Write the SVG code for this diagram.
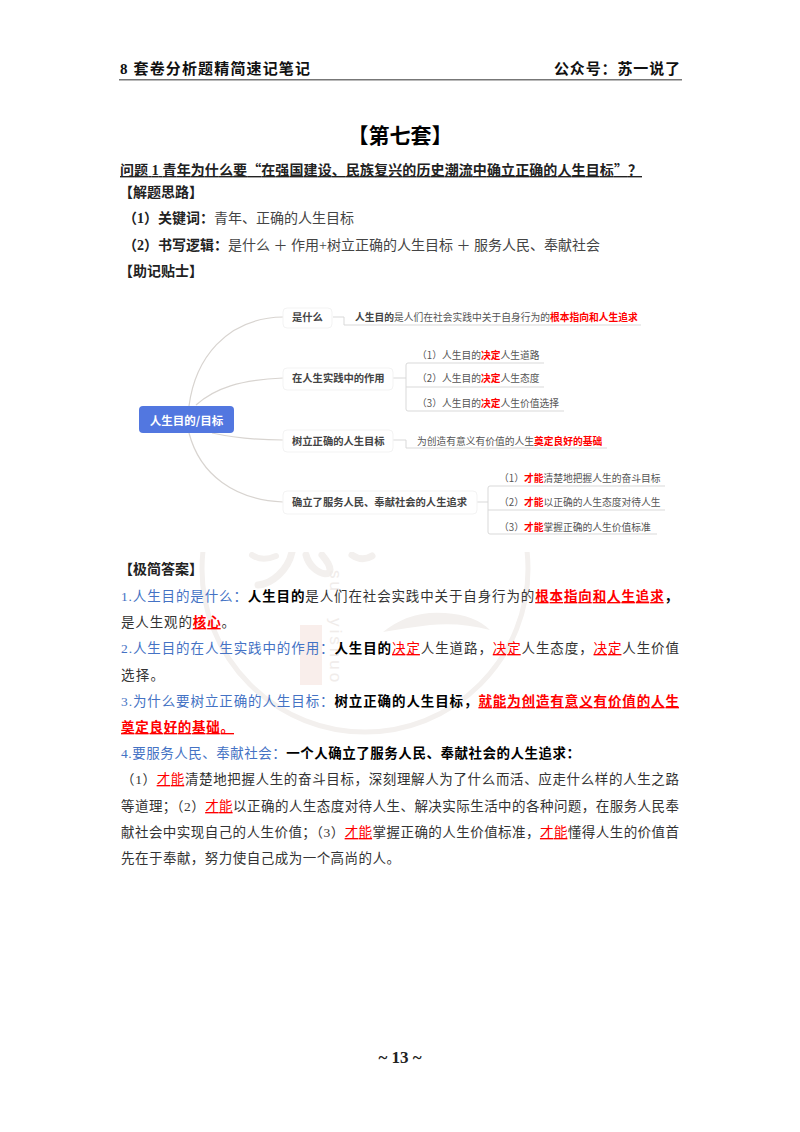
<svg xmlns="http://www.w3.org/2000/svg" width="800" height="1132" viewBox="0 0 800 1132">
<style>
text{font-family:"Liberation Serif","Noto Sans CJK SC",serif;font-size:13.5px;fill:#333}
.b{font-weight:700;fill:#000}
.bl{fill:#4472c4}
.u{fill:#f00;text-decoration:underline;text-underline-offset:3px}
.ub{fill:#f00;font-weight:700;text-decoration:underline;text-underline-offset:3px}
.g{fill:#444;font-weight:400}
.h{font-weight:700;fill:#222;font-size:14px}
.hd{font-weight:700;fill:#111;font-size:15px}
.q{font-family:"Noto Sans CJK SC",sans-serif}
.m,.mb,.mr{font-family:"Noto Sans CJK SC","Liberation Sans",sans-serif;font-size:9.75px}
.m{fill:#555}
.mb{font-weight:700;fill:#444}
.lb{font-family:"Noto Sans CJK SC","Liberation Sans",sans-serif;font-size:10.3px;font-weight:700;fill:#444}
.mr{font-weight:700;fill:#f00}
.c{fill:none;stroke:#d8d4d0;stroke-width:1.2}
.n{fill:#fff;stroke:#f3f3f3;stroke-width:1}
.l{fill:none;stroke:#d9d9d9;stroke-width:1}
.wm{fill:#f3f0ee}
.ws{fill:none;stroke:#f3f0ee;stroke-linecap:round}
.wt{font-family:"Liberation Sans",sans-serif;font-size:17px;letter-spacing:3px;fill:#f0ecea}
</style>
<defs><clipPath id="wc"><rect x="0" y="552" width="800" height="300"/></clipPath></defs>
<rect width="800" height="1132" fill="#fff"/>
<g id="watermark" clip-path="url(#wc)">
<circle cx="365" cy="569" r="163" fill="none" stroke="#f3f0ee" stroke-width="5"/>
<rect x="300" y="625" width="22" height="60" fill="#f9eeeb"/>
<path class="wm" d="M383 632Q410 610 445 613Q475 615 490 630Q460 622 430 625Q405 628 383 632Z"/>
<path class="ws" stroke-width="7" d="M292 552C288 570 272 584 258 585"/>
<path class="ws" stroke-width="6" d="M252 555Q262 562 276 556"/>
<path class="ws" stroke-width="7" d="M306 555C312 578 345 582 322 555"/>
<path class="ws" stroke-width="7" d="M352 555Q362 562 372 556"/>
<text class="wt" transform="translate(330,570) rotate(90)">su</text>
<text class="wt" transform="translate(330,618) rotate(90)">yishuo</text>
</g>
<g id="header">
<text x="120" y="74" class="hd" textLength="190">8 套卷分析题精简速记笔记</text>
<text x="554" y="74" class="hd" textLength="126">公众号：苏一说了</text>
<rect x="119" y="79" width="563" height="1.5" fill="#777"/>
</g>
<g id="title">
<text x="400" y="143" text-anchor="middle" class="b" style="font-size:21px">【第七套】</text>
<text x="120" y="175" class="b" style="font-size:14px;fill:#222;text-decoration:underline;text-underline-offset:2px" textLength="522">问题 1 青年为什么要<tspan class="q">“</tspan>在强国建设、民族复兴的历史潮流中确立正确的人生目标<tspan class="q">”</tspan>？</text>
<text x="119" y="197" class="h">【解题思路】</text>
<text x="123" y="223" class="h">（1）关键词：<tspan class="g">青年、正确的人生目标</tspan></text>
<text x="123" y="250" class="h">（2）书写逻辑：<tspan class="g">是什么 ＋ 作用+树立正确的人生目标 ＋ 服务人民、奉献社会</tspan></text>
<text x="119" y="276" class="h">【助记贴士】</text>
</g>
<g id="connectors">
<path class="c" d="M189 406C195 360 225 318 283 317"/>
<path class="c" d="M196 405C215 388 240 380 283 378"/>
<path class="c" d="M212 433C235 438 255 440 283 440"/>
<path class="c" d="M189 433C200 475 235 500 283 502"/>
<path class="l" d="M333 317H344V325H641"/>
<path class="l" d="M393 378H406M544 363H408Q406 363 406 365V409Q406 411 408 411H564M406 387H544"/>
<path class="l" d="M393 440H406V448H607"/>
<path class="l" d="M477 502H488M665 486H490Q488 486 488 488V532Q488 534 490 534H657M488 510H665"/>
</g>
<g id="n-root"><rect x="139" y="406" width="95" height="27" rx="4" fill="#5277e0"/><text x="186.500" y="425" text-anchor="middle" style="font-family:'Noto Sans CJK SC',sans-serif;font-size:11.500px;fill:#fff;font-weight:700">人生目的/目标</text></g>
<g id="n-what"><rect class="n" x="283" y="308" width="49" height="20" rx="4"/><text x="292" y="321" class="lb">是什么</text></g>
<g id="n-what-1"><text x="355" y="321" class="m"><tspan class="mb">人生目的</tspan>是人们在社会实践中关于自身行为的<tspan class="mr">根本指向和人生追求</tspan></text></g>
<g id="n-role"><rect class="n" x="283" y="368" width="110" height="22" rx="4"/><text x="292" y="382" class="lb">在人生实践中的作用</text></g>
<g id="n-role-1"><text x="417" y="358.500" class="m">（1）人生目的<tspan class="mr">决定</tspan>人生道路</text></g>
<g id="n-role-2"><text x="417" y="381.500" class="m">（2）人生目的<tspan class="mr">决定</tspan>人生态度</text></g>
<g id="n-role-3"><text x="417" y="406.500" class="m">（3）人生目的<tspan class="mr">决定</tspan>人生价值选择</text></g>
<g id="n-set"><rect class="n" x="283" y="430" width="110" height="22" rx="4"/><text x="292" y="444.500" class="lb">树立正确的人生目标</text></g>
<g id="n-set-1"><text x="417" y="444.500" class="m">为创造有意义有价值的人生<tspan class="mr">奠定良好的基础</tspan></text></g>
<g id="n-serve"><rect class="n" x="283" y="491" width="194" height="23" rx="4"/><text x="292" y="506" class="lb">确立了服务人民、奉献社会的人生追求</text></g>
<g id="n-serve-1"><text x="499" y="481.500" class="m">（1）<tspan class="mr">才能</tspan>清楚地把握人生的奋斗目标</text></g>
<g id="n-serve-2"><text x="499" y="505.500" class="m">（2）<tspan class="mr">才能</tspan>以正确的人生态度对待人生</text></g>
<g id="n-serve-3"><text x="499" y="530.500" class="m">（3）<tspan class="mr">才能</tspan>掌握正确的人生价值标准</text></g>
<g id="answer">
<text x="119" y="574" class="h">【极简答案】</text>
<text x="121" y="601" textLength="557"><tspan class="bl">1.人生目的是什么：</tspan><tspan class="b">人生目的</tspan>是人们在社会实践中关于自身行为的<tspan class="ub">根本指向和人生追求</tspan><tspan class="b">，</tspan></text>
<text x="121" y="627" textLength="114">是人生观的<tspan class="ub">核心</tspan>。</text>
<text x="121" y="653" textLength="558"><tspan class="bl">2.人生目的在人生实践中的作用：</tspan><tspan class="b">人生目的</tspan><tspan class="u">决定</tspan>人生道路，<tspan class="u">决定</tspan>人生态度，<tspan class="u">决定</tspan>人生价值</text>
<text x="121" y="680" textLength="43">选择。</text>
<text x="121" y="706" textLength="558"><tspan class="bl">3.为什么要树立正确的人生目标：</tspan><tspan class="b">树立正确的人生目标，</tspan><tspan class="ub">就能为创造有意义有价值的人生</tspan></text>
<text x="121" y="732" textLength="113"><tspan class="ub">奠定良好的基础。</tspan></text>
<text x="121" y="758" textLength="459"><tspan class="bl">4.要服务人民、奉献社会：</tspan><tspan class="b">一个人确立了服务人民、奉献社会的人生追求：</tspan></text>
<text x="121" y="784" textLength="558">（1）<tspan class="u">才能</tspan>清楚地把握人生的奋斗目标，深刻理解人为了什么而活、应走什么样的人生之路</text>
<text x="121" y="811" textLength="558">等道理；（2）<tspan class="u">才能</tspan>以正确的人生态度对待人生、解决实际生活中的各种问题，在服务人民奉</text>
<text x="121" y="837" textLength="558">献社会中实现自己的人生价值；（3）<tspan class="u">才能</tspan>掌握正确的人生价值标准，<tspan class="u">才能</tspan>懂得人生的价值首</text>
<text x="121" y="863" textLength="279">先在于奉献，努力使自己成为一个高尚的人。</text>
</g>
<g id="footer"><text x="400" y="1063" text-anchor="middle" class="b" style="font-size:17px;fill:#222">~ 13 ~</text></g>
</svg>
